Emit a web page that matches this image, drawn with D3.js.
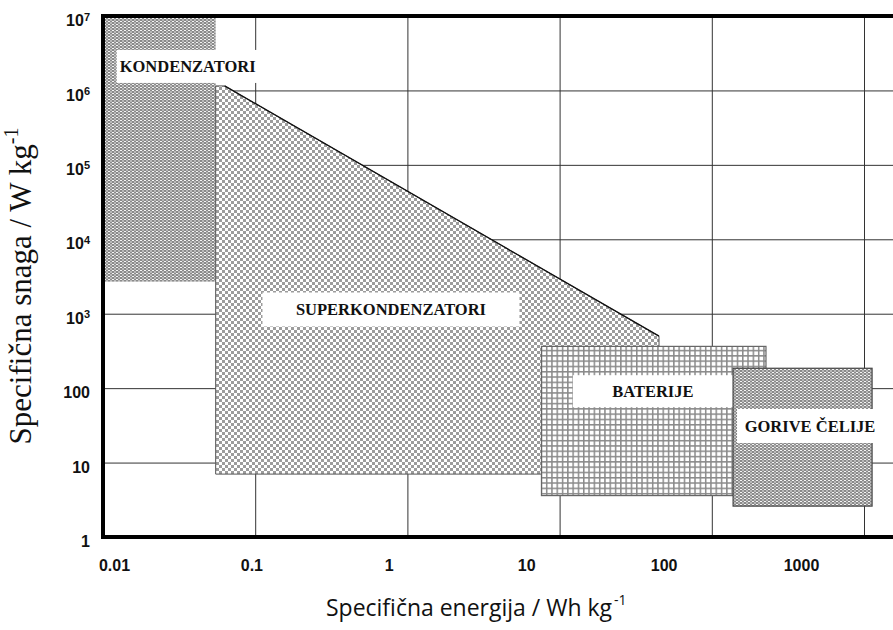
<!DOCTYPE html>
<html>
<head>
<meta charset="utf-8">
<script src="https://cdn.jsdelivr.net/npm/d3@7"></script>
<style>
  body { margin: 0; background: #fff; }
  svg { display: block; }
</style>
</head>
<body>
<div id="wrapper"></div>
<script>
// decades on both axes
var energyTicks = [0.01, 0.1, 1, 10, 100, 1000];
var powerTicks = [1, 10, 100, 1e3, 1e4, 1e5, 1e6, 1e7];
var energyLabels = ["0.01", "0.1", "1", "10", "100", "1000"];
var powerLabels = [["1", ""], ["10", ""], ["100", ""], ["10", "3"], ["10", "4"], ["10", "5"], ["10", "6"], ["10", "7"]];

// regions (energy in Wh/kg, power in W/kg)
var kondE = [0.01, 0.055], kondP = [2700, 1e7];
var superE = [0.055, 0.063, 45, 45, 0.055], superP = [1.15e6, 1.15e6, 500, 7, 7];
var batE = [7.6, 227], batP = [3.6, 364];
var fcE = [138, 1130], fcP = [2.6, 185];

var names = ["KONDENZATORI", "SUPERKONDENZATORI", "BATERIJE", "GORIVE ČELIJE"];
var nameE = [0.036, 0.78, 41, 442];
var nameP = [2.1e6, 1140, 91, 31];

var W = 893, H = 630;
var svg = d3.select('#wrapper')
            .append('svg')
            .attr('width', W)
            .attr('height', H);

var x = d3.scaleLog().domain([0.01, 10000]).range([103, 103 + 6 * 152.2]);
var y = d3.scaleLog().domain([1, 1e7]).range([537, 16]);
// tick labels in the original sit a little off the grid lines
var xLab = d3.scaleLog().domain([0.01, 1000]).range([114, 801]);

var defs = svg.append('defs');

var dots = defs.append('pattern').attr('id', 'dots')
    .attr('patternUnits', 'userSpaceOnUse').attr('width', 4).attr('height', 3);
dots.append('rect').attr('width', 4).attr('height', 3).attr('fill', '#8a8a8a');
dots.append('rect').attr('x', 0).attr('y', 0).attr('width', 2).attr('height', 1).attr('fill', '#f4f4f4');
dots.append('rect').attr('x', 2).attr('y', 1.5).attr('width', 2).attr('height', 1).attr('fill', '#e8e8e8');

var checker = defs.append('pattern').attr('id', 'checker')
    .attr('patternUnits', 'userSpaceOnUse').attr('width', 6).attr('height', 6);
checker.append('rect').attr('width', 6).attr('height', 6).attr('fill', '#fff');
checker.append('rect').attr('x', 0).attr('y', 0).attr('width', 3).attr('height', 3).attr('fill', '#9c9c9c');
checker.append('rect').attr('x', 3).attr('y', 3).attr('width', 3).attr('height', 3).attr('fill', '#9c9c9c');

var grid = defs.append('pattern').attr('id', 'grid')
    .attr('patternUnits', 'userSpaceOnUse').attr('width', 5.3).attr('height', 5.3);
grid.append('rect').attr('width', 5.3).attr('height', 5.3).attr('fill', '#fff');
grid.append('rect').attr('width', 1.5).attr('height', 5.3).attr('fill', '#8a8a8a');
grid.append('rect').attr('width', 5.3).attr('height', 1.5).attr('fill', '#8a8a8a');

// grid lines
var gx = svg.append('g')
    .attr('transform', 'translate(0,' + y(1) + ')')
    .call(d3.axisBottom(x).tickValues(energyTicks.concat([10000])).tickSize(-(y(1) - y(1e7))).tickFormat(''));
gx.select('.domain').remove();
gx.selectAll('line').attr('stroke', '#333').attr('stroke-width', 1);

var gy = svg.append('g')
    .attr('transform', 'translate(' + x(0.01) + ',0)')
    .call(d3.axisLeft(y).tickValues(powerTicks).tickSize(-(W + 20 - x(0.01))).tickFormat(''));
gy.select('.domain').remove();
gy.selectAll('line').attr('stroke', '#333').attr('stroke-width', 1);

function box(e, p, fill, stroke) {
    return svg.append('rect')
        .attr('x', x(e[0])).attr('y', y(p[1]))
        .attr('width', x(e[1]) - x(e[0]))
        .attr('height', y(p[0]) - y(p[1]))
        .attr('fill', fill)
        .attr('stroke', stroke).attr('stroke-width', 1.2);
}

function label(i, w, h) {
    var cx = x(nameE[i]), cy = y(nameP[i]);
    svg.append('rect')
        .attr('x', cx - w / 2).attr('y', cy - h / 2)
        .attr('width', w).attr('height', h)
        .attr('fill', '#fff');
    svg.append('text')
        .attr('x', cx).attr('y', cy)
        .attr('text-anchor', 'middle')
        .attr('dominant-baseline', 'central')
        .attr('font-family', '"Liberation Serif", "Times New Roman", serif')
        .attr('font-weight', 'bold')
        .attr('font-size', 16.5)
        .attr('fill', '#111')
        .text(names[i]);
}

box(kondE, kondP, 'url(#dots)', 'none');

var pts = superE.map(function(e, i) { return [x(e), y(superP[i])]; });
svg.append('path')
    .attr('d', d3.line()(pts) + 'Z')
    .attr('fill', 'url(#checker)')
    .attr('stroke', '#555').attr('stroke-width', 1);
svg.append('line')
    .attr('x1', pts[1][0]).attr('y1', pts[1][1])
    .attr('x2', pts[2][0]).attr('y2', pts[2][1])
    .attr('stroke', '#111').attr('stroke-width', 1.3);

label(0, 142, 33);
label(1, 257, 34);

box(batE, batP, 'url(#grid)', '#666');
label(2, 160, 32);

box(fcE, fcP, 'url(#dots)', '#444');
label(3, 146, 34);

// frame
svg.append('path')
    .attr('d', 'M' + (W + 20) + ',' + y(1e7) + 'H' + x(0.01) + 'V' + y(1) + 'H' + (W + 20))
    .attr('fill', 'none')
    .attr('stroke', '#000')
    .attr('stroke-width', 4);

// tick labels
var ax = svg.append('g')
    .attr('transform', 'translate(0,' + (y(1) + 20) + ')')
    .call(d3.axisBottom(xLab).tickValues(energyTicks).tickSize(0)
          .tickFormat(function(d, i) { return energyLabels[i]; }));
ax.select('.domain').remove();
ax.selectAll('text')
    .attr('font-family', '"Liberation Sans", Arial, sans-serif')
    .attr('font-weight', 'bold')
    .attr('font-size', 16)
    .attr('fill', '#111');

var ay = svg.append('g')
    .attr('transform', 'translate(90,4)')
    .call(d3.axisLeft(y).tickValues(powerTicks).tickSize(0).tickFormat(''));
ay.select('.domain').remove();
ay.selectAll('.tick').each(function(d, i) {
    var t = d3.select(this).select('text')
        .attr('x', 0)
        .attr('dy', '0.35em')
        .attr('text-anchor', 'end')
        .attr('font-family', '"Liberation Sans", Arial, sans-serif')
        .attr('font-weight', 'bold')
        .attr('font-size', 16)
        .attr('fill', '#111');
    t.append('tspan').text(powerLabels[i][0]);
    if (powerLabels[i][1]) {
        t.append('tspan').attr('font-size', 11).attr('dy', '-0.5em').text(powerLabels[i][1]);
    }
});

// axis titles
var xt = svg.append('text')
    .attr('x', 326).attr('y', 616)
    .attr('font-family', '"Open Sans", Carlito, Calibri, sans-serif')
    .attr('font-size', 23)
    .attr('fill', '#111');
xt.append('tspan')
    .attr('textLength', 286).attr('lengthAdjust', 'spacingAndGlyphs')
    .text('Specifična energija / Wh kg');
xt.append('tspan').attr('x', 614).attr('font-size', 14).attr('dy', -11).text('-1');

var yt = svg.append('text')
    .attr('transform', 'translate(31,286) rotate(-90)')
    .attr('text-anchor', 'middle')
    .attr('font-family', '"Liberation Serif", "Times New Roman", serif')
    .attr('font-size', 31)
    .attr('fill', '#111');
yt.append('tspan').text('Specifična snaga / W kg');
yt.append('tspan').attr('font-size', 20).attr('dy', -13).text('-1');
</script>
</body>
</html>
